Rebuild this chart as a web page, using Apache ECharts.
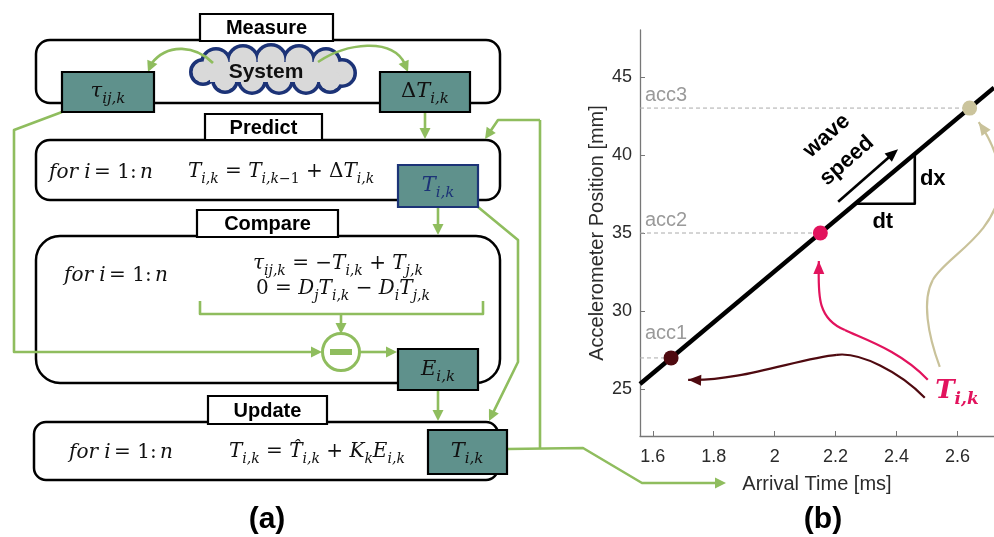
<!DOCTYPE html>
<html>
<head>
<meta charset="utf-8">
<script src="https://cdn.jsdelivr.net/npm/echarts@6/dist/echarts.min.js"></script>
<style>
  html, body { margin: 0; padding: 0; background: #fff; }
  #c { width: 994px; height: 537px; }
</style>
</head>
<body>
<div id="c"></div>
<script>
// Accelerometers: arrival time of the wave (ms) and sensor position (mm)
const sensors = ['acc1', 'acc2', 'acc3'];
const arrivalTime = [1.66, 2.15, 2.64];
const sensorPos = [27, 35, 43];
// Fitted wave front across the time window
const fitTime = [1.558, 2.72];
const fitPos = [25.33, 44.31];
// Axis ranges and tick labels
const timeRange = [1.558, 2.72];
const posRange = [22, 48];
const xTicks = [1.6, 1.8, 2, 2.2, 2.4, 2.6];
const yTicks = [25, 30, 35, 40, 45];

const SANS = '"Liberation Sans", Arial, sans-serif';
const SERIF = '"DejaVu Serif", "Liberation Serif", serif';
const GREEN = '#8fbd5e';
const TEAL = '#5f918c';
const NAVY = '#1c3377';
const dotColors = ['#4f0a10', '#e2135d', '#cbc49c'];
const labelGray = '#9a9a9a';

const chart = echarts.init(document.getElementById('c'), null, { renderer: 'canvas', width: 994, height: 537 });

const axisCommon = {
  type: 'value',
  nameLocation: 'middle',
  nameTextStyle: { fontFamily: SANS, fontSize: 20, color: '#2b2b2b' },
  axisLine: { show: true, lineStyle: { color: '#777', width: 1.3 } },
  splitLine: { show: false }
};

const series = [
  {
    type: 'line', name: 'wave', data: fitTime.map((t, i) => [t, fitPos[i]]),
    symbol: 'none', lineStyle: { color: '#000', width: 4.5 }, z: 3, silent: true
  }
];
sensors.forEach((s, i) => {
  series.push({
    type: 'line', name: s + ' level',
    data: [[timeRange[0], sensorPos[i]], [arrivalTime[i], sensorPos[i]]],
    symbol: 'none', lineStyle: { color: '#aaa', width: 1, type: [4, 3] }, z: 2, silent: true
  });
});
series.push({
  type: 'scatter', name: 'arrivals',
  data: arrivalTime.map((t, i) => ({ value: [t, sensorPos[i]], itemStyle: { color: dotColors[i], opacity: 1 } })),
  symbolSize: 15, z: 5, silent: true
});

chart.setOption({
  animation: false,
  grid: { left: 640, top: 30, right: 0, bottom: 101 },
  xAxis: Object.assign({}, axisCommon, {
    min: timeRange[0], max: timeRange[1],
    name: 'Arrival Time [ms]', nameGap: 38,
    axisTick: { inside: true, length: 5, customValues: xTicks, lineStyle: { color: '#777' } },
    axisLabel: { customValues: xTicks, fontFamily: SANS, fontSize: 18, color: '#2b2b2b', margin: 12, formatter: v => String(v) }
  }),
  yAxis: Object.assign({}, axisCommon, {
    min: posRange[0], max: posRange[1],
    name: 'Accelerometer Position [mm]', nameGap: 33,
    axisTick: { inside: true, length: 5, customValues: yTicks, lineStyle: { color: '#777' } },
    axisLabel: { customValues: yTicks, fontFamily: SANS, fontSize: 18, color: '#2b2b2b', margin: 8 }
  }),
  series
});

// ---------- drawing helpers ----------
const els = [];
function rrect(x, y, w, h, r, fill, stroke, lw, z) {
  els.push({ type: 'rect', shape: { x, y, width: w, height: h, r }, style: { fill, stroke, lineWidth: lw }, z });
}
function poly(pts, color, lw, z) {
  els.push({ type: 'polyline', shape: { points: pts }, style: { stroke: color, lineWidth: lw, fill: null, lineJoin: 'round' }, z });
}
function head(tip, from, color, len, wid, z) {
  const dx = tip[0] - from[0], dy = tip[1] - from[1];
  const d = Math.hypot(dx, dy), ux = dx / d, uy = dy / d;
  const bx = tip[0] - ux * len, by = tip[1] - uy * len;
  els.push({ type: 'polygon', shape: { points: [tip, [bx - uy * wid / 2, by + ux * wid / 2], [bx + uy * wid / 2, by - ux * wid / 2]] }, style: { fill: color }, z });
}
function arrow(pts, color, lw, z, len, wid) {
  len = len || 11; wid = wid || 11;
  const n = pts.length, tip = pts[n - 1], prev = pts[n - 2];
  const dx = tip[0] - prev[0], dy = tip[1] - prev[1], d = Math.hypot(dx, dy);
  const base = [tip[0] - dx / d * len * 0.7, tip[1] - dy / d * len * 0.7];
  poly(pts.slice(0, -1).concat([base]), color, lw, z);
  head(tip, prev, color, len, wid, z);
}
function curve(p0, c1, c2, p1, color, lw, z) {
  els.push({ type: 'bezierCurve', shape: { x1: p0[0], y1: p0[1], cpx1: c1[0], cpy1: c1[1], cpx2: c2[0], cpy2: c2[1], x2: p1[0], y2: p1[1] }, style: { stroke: color, lineWidth: lw, fill: null }, z });
}
function text(x, y, str, style, z, extra) {
  els.push(Object.assign({ type: 'text', x, y, style: Object.assign({ text: str, align: 'center', verticalAlign: 'middle' }, style), z }, extra || {}));
}
function mathRich(color, size) {
  const sub = Math.round(size * 0.7);
  return {
    v: { fontFamily: SERIF, fontStyle: 'italic', fontSize: size, lineHeight: size + 8, fill: color },
    n: { fontFamily: SERIF, fontSize: size, lineHeight: size + 8, fill: color },
    s: { fontFamily: SERIF, fontStyle: 'italic', fontSize: sub, lineHeight: sub + 2, verticalAlign: 'bottom', fill: color },
    sn: { fontFamily: SERIF, fontSize: sub, lineHeight: sub + 2, verticalAlign: 'bottom', fill: color }
  };
}
function math(x, y, str, color, size, align, z) {
  text(x, y, str, { rich: mathRich(color, size), align: align || 'left' }, z || 7);
}

// ---------- (a) Kalman-style loop: Measure / Predict / Compare / Update ----------
rrect(36, 40, 464, 63, 14, '#fff', '#000', 2.5, 1);
rrect(36, 140, 464, 60, 14, '#fff', '#000', 2.5, 1);
rrect(36, 236, 464, 147, 24, '#fff', '#000', 2.5, 1);
rrect(34, 422, 464, 58, 12, '#fff', '#000', 2.5, 1);

const stageFont = { fontFamily: SANS, fontWeight: 'bold', fontSize: 20, fill: '#000' };
[[200, 14, 133, 27, 'Measure'], [205, 114, 117, 26, 'Predict'], [197, 210, 141, 27, 'Compare'], [208, 396, 119, 28, 'Update']]
  .forEach(b => {
    rrect(b[0], b[1], b[2], b[3], 0, '#fff', '#000', 2.2, 3);
    text(b[0] + b[2] / 2, b[1] + b[3] / 2 + 1, b[4], stageFont, 4);
  });

// cloud around "System"
const bumps = [[203, 72, 12], [216, 63, 14], [243, 61, 15], [271, 60, 15], [299, 61, 15], [326, 63, 14],
  [342, 73, 13], [330, 80, 12], [306, 80, 13], [279, 80, 13], [252, 80, 13], [225, 80, 12]];
bumps.forEach(b => els.push({ type: 'circle', shape: { cx: b[0], cy: b[1], r: b[2] }, style: { fill: '#d9d9d9', stroke: NAVY, lineWidth: 4 }, z: 2 }));
bumps.forEach(b => els.push({ type: 'circle', shape: { cx: b[0], cy: b[1], r: b[2] - 1.6 }, style: { fill: '#d9d9d9' }, z: 2 }));
rrect(210, 62, 125, 20, 0, '#d9d9d9', null, 0, 2);
text(266, 72, 'System', { fontFamily: SANS, fontWeight: 'bold', fontSize: 21, fill: '#111' }, 8);

// teal state boxes
rrect(62, 72, 92, 40, 0, TEAL, '#000', 2.2, 6);
rrect(380, 72, 90, 40, 0, TEAL, '#000', 2.2, 6);
rrect(398, 165, 80, 42, 0, TEAL, NAVY, 2.2, 6);
rrect(398, 349, 80, 41, 0, TEAL, '#000', 2.2, 6);
rrect(428, 430, 79, 44, 0, TEAL, '#000', 2.2, 6);
math(108, 92, '{v|τ}{s|ij,k}', '#111', 21, 'center');
math(425, 92, '{n|Δ}{v|T}{s|i,k}', '#111', 21, 'center');
math(438, 186, '{v|T}{s|i,k}', NAVY, 21, 'center');
math(438, 370, '{v|E}{s|i,k}', '#111', 21, 'center');
math(467, 452, '{v|T}{s|i,k}', '#111', 21, 'center');

// equations
const loopTxt = '{v|for i} {n|= 1:} {v|n}';
math(49, 173, loopTxt, '#111', 20);
math(188, 172, '{v|T}{s|i,k}{n| = }{v|T}{s|i,k}{sn|−1}{n| + Δ}{v|T}{s|i,k}', '#111', 20);
math(64, 276, loopTxt, '#111', 20);
math(253, 264, '{v|τ}{s|ij,k}{n| = −}{v|T}{s|i,k}{n| + }{v|T}{s|j,k}', '#111', 20);
math(256, 289, '{n|0 = }{v|D}{s|j}{v|T}{s|i,k}{n| − }{v|D}{s|i}{v|T}{s|j,k}', '#111', 20);
math(69, 453, loopTxt, '#111', 20);
math(229, 452, '{v|T}{s|i,k}{n| = }{v|T̂}{s|i,k}{n| + }{v|K}{s|k}{v|E}{s|i,k}', '#111', 20);

// green signal flow
const LW = 2.6;
curve([213, 63], [196, 46], [168, 42], [151, 64], GREEN, LW, 5); head([148, 72], [154, 58], GREEN, 11, 11, 5);
curve([318, 62], [346, 43], [392, 37], [405, 64], GREEN, LW, 5); head([408, 72], [402, 58], GREEN, 11, 11, 5);
arrow([[425, 112], [425, 139]], GREEN, LW, 5);
poly([[540, 120], [540, 449]], GREEN, LW, 5);
arrow([[540, 120], [498, 120], [485, 139]], GREEN, LW, 5);
arrow([[438, 207], [438, 235]], GREEN, LW, 5);
arrow([[478, 207], [518, 240], [518, 362], [489, 421]], GREEN, LW, 5);
arrow([[438, 390], [438, 421]], GREEN, LW, 5);
arrow([[507, 449], [583, 448], [642, 483], [726, 483]], GREEN, LW, 5);
arrow([[62, 112], [14, 130], [14, 352], [322, 352]], GREEN, LW, 5);
poly([[200, 301], [200, 314], [483, 314], [483, 301]], GREEN, LW, 5);
arrow([[341, 314], [341, 334]], GREEN, LW, 5);
arrow([[360, 352], [397, 352]], GREEN, LW, 5);
els.push({ type: 'circle', shape: { cx: 341, cy: 352, r: 18.5 }, style: { fill: '#fff', stroke: GREEN, lineWidth: 3 }, z: 6 });
rrect(330, 349, 22, 6, 0, GREEN, null, 0, 7);

const panelFont = { fontFamily: SANS, fontWeight: 'bold', fontSize: 30, fill: '#000' };
text(267, 520, '(a)', panelFont, 8);
text(823, 520, '(b)', panelFont, 8);

// ---------- (b) annotations placed through the chart's own coordinate system ----------
const P = (t, mm) => chart.convertToPixel({ gridIndex: 0 }, [t, mm]);

// sensor names above their guide lines
const accLift = [24, 13, 13];
sensors.forEach((s, i) => {
  const p = P(timeRange[0], sensorPos[i]);
  text(p[0] + 5, p[1] - accLift[i], s, { fontFamily: SANS, fontSize: 20, fill: labelGray, align: 'left' }, 9);
});

// wave-speed arrow and slope triangle
const a0 = P(2.2085, 37.0), a1 = P(2.405, 40.37);
arrow([a0, a1], '#000', 2.6, 10, 13, 11);
const ang = Math.atan2(a0[1] - a1[1], a1[0] - a0[0]);
const bold22 = { fontFamily: SANS, fontWeight: 'bold', fontSize: 22, fill: '#000' };
const w1 = P(2.171, 41.22), w2 = P(2.237, 39.63);
text(w1[0], w1[1], 'wave', bold22, 10, { rotation: ang });
text(w2[0], w2[1], 'speed', bold22, 10, { rotation: ang });
poly([P(2.263, 36.87), P(2.46, 36.87), P(2.46, 40.06)], '#000', 2.6, 10);
const dxp = P(2.519, 38.47), dtp = P(2.355, 35.68);
text(dxp[0], dxp[1], 'dx', bold22, 10);
text(dtp[0], dtp[1], 'dt', bold22, 10);

// curved pointers from the estimate to each arrival
function dcurve(pts, color, lw) {
  const q = pts.map(p => P(p[0], p[1]));
  for (let k = 0; k + 3 < q.length; k += 3) curve(q[k], q[k + 1], q[k + 2], q[k + 3], color, lw, 10);
  const n = q.length;
  head(q[n - 1], q[n - 2], color, 13, 11, 10);
}
dcurve([[2.5026, 25.6], [2.411, 27.52], [2.280, 28.29], [2.2305, 28.79],
        [2.132, 29.56], [2.145, 31.35], [2.145, 33.2]], dotColors[1], 2.2);
dcurve([[2.4928, 24.45], [2.4108, 26.11], [2.2797, 27.39], [2.2043, 27.20],
        [2.083, 27.0], [1.8862, 25.47], [1.716, 25.6]], dotColors[0], 2.2);
dcurve([[2.542, 26.43], [2.5026, 28.48], [2.483, 30.71], [2.519, 31.99],
        [2.5584, 33.4], [2.7223, 34.87], [2.7387, 37.75],
        [2.7485, 39.67], [2.6993, 41.27], [2.6698, 42.1]], '#c9c29a', 2.2);

const tl = P(2.527, 24.85);
text(tl[0], tl[1], '{T|T}{s|i,k}', {
  align: 'left',
  rich: {
    T: { fontFamily: SERIF, fontStyle: 'italic', fontWeight: 'bold', fontSize: 26, lineHeight: 34, fill: dotColors[1] },
    s: { fontFamily: SERIF, fontStyle: 'italic', fontWeight: 'bold', fontSize: 17, lineHeight: 18, verticalAlign: 'bottom', fill: dotColors[1] }
  }
}, 10);

chart.setOption({ graphic: { elements: els } });
</script>
</body>
</html>
